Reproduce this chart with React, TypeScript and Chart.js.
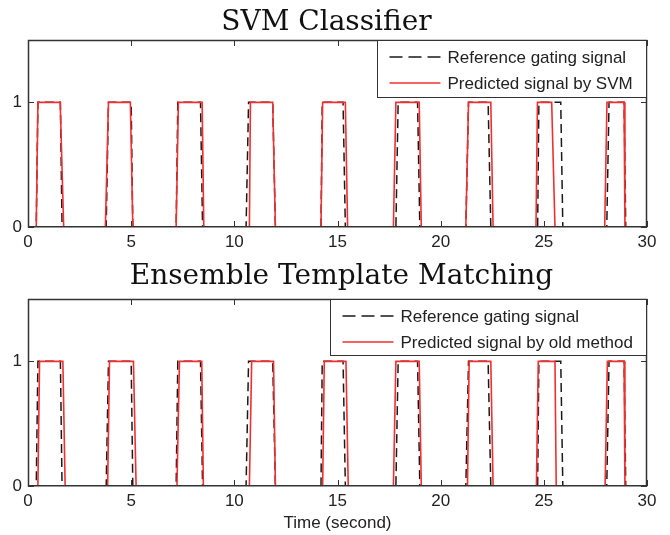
import React, { useEffect, useRef } from "react";
import { Chart, registerables } from "chart.js";

Chart.register(...registerables);

// ---- data ----
const X_TICKS = [0, 5, 10, 15, 20, 25, 30];
const Y_TICKS = [0, 1];
const TITLE_TOP = "SVM Classifier";
const TITLE_BOTTOM = "Ensemble Template Matching";
const X_LABEL = "Time (second)";
const LEGEND_TOP = ["Reference gating signal", "Predicted signal by SVM"];
const LEGEND_BOTTOM = ["Reference gating signal", "Predicted signal by old method"];

// transitions [start, end] (alternating rise / fall), signal starts at 0
const REF_EDGES = [
  [0.4, 0.48], [1.57, 1.65],
  [3.79, 3.9], [5.0, 5.08],
  [7.18, 7.26], [8.36, 8.46],
  [10.57, 10.69], [11.86, 11.99],
  [14.2, 14.26], [15.27, 15.38],
  [17.83, 17.94], [18.88, 18.99],
  [21.22, 21.35], [22.3, 22.43],
  [24.7, 24.76], [25.82, 25.92],
  [28.05, 28.16], [28.89, 28.97],
];
const SVM_EDGES = [
  [0.4, 0.48], [1.56, 1.73],
  [3.75, 3.9], [4.96, 5.08],
  [7.18, 7.29], [8.44, 8.52],
  [10.73, 10.78], [11.86, 11.99],
  [14.2, 14.28], [15.38, 15.49],
  [17.71, 17.83], [18.96, 19.06],
  [21.22, 21.35], [22.43, 22.54],
  [24.62, 24.69], [25.38, 25.54],
  [27.95, 28.06], [28.89, 28.93],
];
const OLD_EDGES = [
  [0.48, 0.56], [1.69, 1.8],
  [3.86, 3.95], [5.11, 5.24],
  [7.22, 7.34], [8.42, 8.5],
  [10.73, 10.84], [11.9, 11.99],
  [14.28, 14.36], [15.41, 15.52],
  [17.71, 17.83], [18.96, 19.06],
  [21.3, 21.38], [22.43, 22.54],
  [24.64, 24.73], [25.54, 25.6],
  [27.97, 28.08], [28.89, 28.93],
];
const X_MIN = 0;
const X_MAX = 30;
const Y_MIN = 0;
const Y_MAX = 1.5;

// ---- helpers ----
function toSteps(edges: number[][]) {
  const pts: { x: number; y: number }[] = [{ x: X_MIN, y: 0 }];
  let level = 0;
  for (const [a, b] of edges) {
    pts.push({ x: a, y: level });
    level = 1 - level;
    pts.push({ x: b, y: level });
  }
  pts.push({ x: X_MAX, y: level });
  return pts;
}

const SANS = '"Liberation Sans", Arial, sans-serif';
const SERIF = '"DejaVu Serif", serif';
const RED = "#f03030";
const BLACK = "#1a1a1a";
const FRAME = "#333333";

const framePlugin = {
  id: "frame",
  afterDatasetsDraw(chart: any) {
    const { ctx, chartArea, scales } = chart;
    const { left, right, top, bottom } = chartArea;
    const x = scales.x;
    const y = scales.y;
    ctx.save();
    ctx.strokeStyle = FRAME;
    ctx.lineWidth = 1.5;
    ctx.beginPath();
    ctx.moveTo(left + 0.5, top + 0.5);
    ctx.lineTo(right - 0.5, top + 0.5);
    ctx.lineTo(right - 0.5, bottom - 0.25);
    ctx.lineTo(left + 0.5, bottom - 0.25);
    ctx.closePath();
    ctx.stroke();
    const tl = 6;
    ctx.lineWidth = 1;
    ctx.beginPath();
    for (const v of X_TICKS) {
      const px = Math.round(x.getPixelForValue(v)) + 0.5;
      ctx.moveTo(px, bottom);
      ctx.lineTo(px, bottom - tl);
      ctx.moveTo(px, top);
      ctx.lineTo(px, top + tl);
    }
    for (const v of Y_TICKS) {
      const py = Math.round(y.getPixelForValue(v)) + 0.5;
      ctx.moveTo(left, py);
      ctx.lineTo(left + tl, py);
      ctx.moveTo(right, py);
      ctx.lineTo(right - tl, py);
    }
    ctx.stroke();
    ctx.restore();
  },
};

const decorPlugin = {
  id: "decor",
  afterDraw(chart: any, _args: any, opts: any) {
    const { ctx, chartArea } = chart;
    const { left, right, top } = chartArea;
    ctx.save();
    // title
    ctx.fillStyle = "#111";
    ctx.font = `28px ${SERIF}`;
    ctx.textAlign = "center";
    ctx.textBaseline = "alphabetic";
    ctx.fillText(opts.title, (left + right) / 2 + opts.titleDx, opts.titleBaseline);
    // x label
    if (opts.xLabel) {
      ctx.font = `17px ${SANS}`;
      ctx.fillStyle = "#222";
      ctx.fillText(opts.xLabel, (left + right) / 2, opts.xLabelBaseline);
    }
    // legend
    const w = opts.legendWidth;
    const h = opts.legendHeight;
    const lx = Math.round(right - w) + 0.5;
    const ly = Math.round(top) + 0.5;
    ctx.fillStyle = "#fff";
    ctx.fillRect(lx, ly, w - 1, h);
    ctx.strokeStyle = FRAME;
    ctx.lineWidth = 1;
    ctx.strokeRect(lx, ly, w - 1, h);
    const rows = [
      { text: opts.labels[0], color: BLACK, dash: [13, 6], width: 1.4 },
      { text: opts.labels[1], color: RED, dash: [], width: 1.6 },
    ];
    ctx.font = `17px ${SANS}`;
    ctx.textAlign = "left";
    ctx.textBaseline = "middle";
    rows.forEach((r, i) => {
      const ry = top + 17 + i * 26;
      ctx.beginPath();
      ctx.setLineDash(r.dash);
      ctx.strokeStyle = r.color;
      ctx.lineWidth = r.width;
      ctx.moveTo(lx + 12, ry);
      ctx.lineTo(lx + 63, ry);
      ctx.stroke();
      ctx.setLineDash([]);
      ctx.fillStyle = "#222";
      ctx.fillText(r.text, lx + 70, ry + 1);
    });
    ctx.restore();
  },
};

function makeConfig(pred: { x: number; y: number }[], o: any) {
  const tickFont = { family: SANS, size: 17 };
  return {
    type: "line",
    data: {
      datasets: [
        {
          data: pred,
          borderColor: RED,
          borderWidth: 1.6,
          pointRadius: 0,
          fill: false,
          tension: 0,
          order: 0,
        },
        {
          data: toSteps(REF_EDGES),
          borderColor: BLACK,
          borderWidth: 1.5,
          borderDash: [9, 5],
          pointRadius: 0,
          fill: false,
          tension: 0,
          order: 1,
        },
      ],
    },
    options: {
      animation: false,
      responsive: false,
      maintainAspectRatio: false,
      events: [],
      layout: { padding: { top: o.areaTop, right: 23, left: 0, bottom: 0 } },
      plugins: {
        legend: { display: false },
        tooltip: { enabled: false },
        title: { display: false },
        decor: o.decor,
      },
      scales: {
        x: {
          type: "linear",
          min: X_MIN,
          max: X_MAX,
          afterBuildTicks: (s: any) => {
            s.ticks = X_TICKS.map((v) => ({ value: v }));
          },
          afterFit: (s: any) => {
            s.height = o.xHeight;
          },
          grid: { display: false, drawTicks: false },
          border: { display: false },
          ticks: {
            padding: 5,
            font: tickFont,
            color: "#222",
            maxRotation: 0,
            autoSkip: false,
            callback: (v: any) => String(v),
          },
        },
        y: {
          type: "linear",
          min: Y_MIN,
          max: Y_MAX,
          afterBuildTicks: (s: any) => {
            s.ticks = Y_TICKS.map((v) => ({ value: v }));
          },
          afterFit: (s: any) => {
            s.width = 28;
          },
          grid: { display: false, drawTicks: false },
          border: { display: false },
          ticks: {
            padding: 6,
            font: tickFont,
            color: "#222",
            callback: (v: any) => String(v),
          },
        },
      },
    },
    plugins: [framePlugin, decorPlugin],
  } as any;
}

export default function App() {
  const c1 = useRef<HTMLCanvasElement>(null);
  const c2 = useRef<HTMLCanvasElement>(null);

  useEffect(() => {
    const ch1 = new Chart(
      c1.current!,
      makeConfig(toSteps(SVM_EDGES), {
        areaTop: 40,
        xHeight: 23,
        decor: {
          title: TITLE_TOP,
          titleDx: -11,
          titleBaseline: 29.5,
          labels: LEGEND_TOP,
          legendWidth: 270,
          legendHeight: 57,
        },
      })
    );
    const ch2 = new Chart(
      c2.current!,
      makeConfig(toSteps(OLD_EDGES), {
        areaTop: 49,
        xHeight: 49,
        decor: {
          title: TITLE_BOTTOM,
          titleDx: 4,
          titleBaseline: 34,
          xLabel: X_LABEL,
          xLabelBaseline: 278,
          labels: LEGEND_BOTTOM,
          legendWidth: 317,
          legendHeight: 56,
        },
      })
    );
    return () => {
      ch1.destroy();
      ch2.destroy();
    };
  }, []);

  return (
    <div style={{ position: "fixed", left: 0, top: 0, width: 670, height: 535, background: "#fff" }}>
      <canvas ref={c1} width={670} height={250} style={{ position: "absolute", left: 0, top: 0, width: 670, height: 250 }} />
      <canvas ref={c2} width={670} height={285} style={{ position: "absolute", left: 0, top: 250, width: 670, height: 285 }} />
    </div>
  );
}
